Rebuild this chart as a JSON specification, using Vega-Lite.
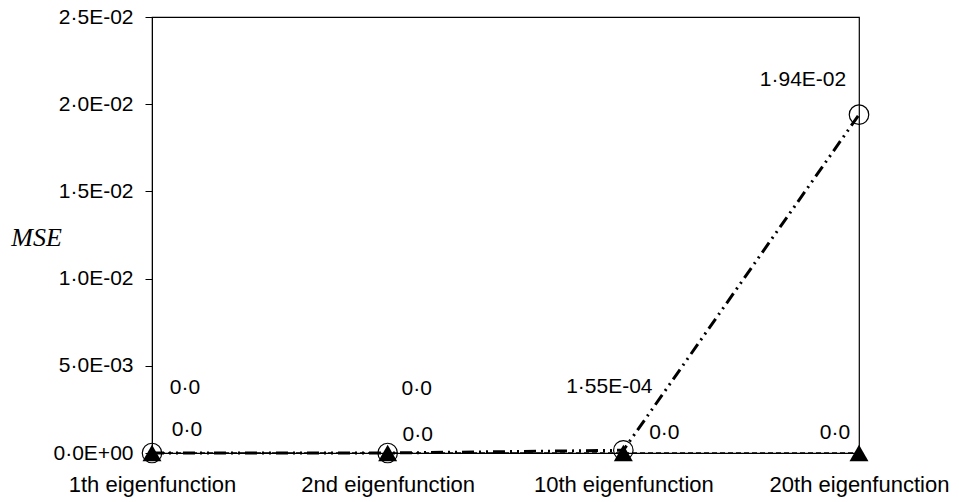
{
  "$schema": "https://vega.github.io/schema/vega-lite/v6.json",
  "width": 707,
  "height": 436,
  "autosize": {"type": "none"},
  "padding": {"left": 152, "top": 17, "right": 100, "bottom": 49},
  "background": "white",
  "config": {
    "view": {"stroke": "black", "strokeWidth": 1.2},
    "font": "Liberation Sans",
    "axis": {"labelFont": "Liberation Sans", "labelColor": "black", "labelFontSize": 21, "domainColor": "black", "tickColor": "black", "grid": false}
  },
  "data": {
    "values": [
      {"func": "1th eigenfunction", "series": "A", "pt": 1, "mse": 0, "label": "0·0"},
      {"func": "2nd eigenfunction", "series": "A", "pt": 2, "mse": 0, "label": "0·0"},
      {"func": "10th eigenfunction", "series": "A", "pt": 3, "mse": 0.000155, "label": "1·55E-04"},
      {"func": "20th eigenfunction", "series": "A", "pt": 4, "mse": 0.0194, "label": "1·94E-02"},
      {"func": "1th eigenfunction", "series": "B", "pt": 1, "mse": 0, "label": "0·0"},
      {"func": "2nd eigenfunction", "series": "B", "pt": 2, "mse": 0, "label": "0·0"},
      {"func": "10th eigenfunction", "series": "B", "pt": 3, "mse": 0, "label": "0·0"},
      {"func": "20th eigenfunction", "series": "B", "pt": 4, "mse": 0, "label": "0·0"}
    ]
  },
  "encoding": {
    "x": {
      "field": "func",
      "type": "ordinal",
      "scale": {"type": "point", "padding": 0, "domain": ["1th eigenfunction", "2nd eigenfunction", "10th eigenfunction", "20th eigenfunction"]},
      "axis": {"title": null, "domain": false, "ticks": false, "labelPadding": 21, "labelAngle": 0, "labelFontSize": 22}
    },
    "y": {
      "field": "mse",
      "type": "quantitative",
      "scale": {"domain": [0, 0.025], "nice": false},
      "axis": {
        "values": [0, 0.005, 0.01, 0.015, 0.02, 0.025],
        "labelExpr": "replace(replace(replace(format(datum.value, '.1e'), '.', '·'), 'e-', 'E-0'), 'e+', 'E+0')",
        "tickSize": 7,
        "labelPadding": 12,
        "title": "MSE",
        "titleFont": "Liberation Serif",
        "titleFontStyle": "italic",
        "titleFontWeight": "normal",
        "titleFontSize": 26,
        "titleColor": "black",
        "titleAngle": 0,
        "titleX": -116,
        "titleY": 228,
        "titleAlign": "center",
        "titleBaseline": "alphabetic"
      }
    }
  },
  "layer": [
    {"transform": [{"filter": "datum.series == 'A'"}], "mark": {"type": "line", "color": "black", "strokeWidth": 3, "strokeDash": [12, 5, 2, 5, 2, 5]}},
    {"transform": [{"filter": "datum.series == 'B'"}], "mark": {"type": "line", "color": "black", "strokeWidth": 1.5, "strokeDash": [5, 3]}},
    {"transform": [{"filter": "datum.series == 'A'"}], "mark": {"type": "point", "shape": "circle", "size": 380, "filled": false, "stroke": "black", "strokeWidth": 1.2, "opacity": 1}},
    {"transform": [{"filter": "datum.series == 'B'"}], "mark": {"type": "point", "shape": "triangle-up", "size": 360, "filled": true, "color": "black", "opacity": 1}},
    {"transform": [{"filter": "datum.series == 'A' && datum.pt == 1"}], "mark": {"type": "text", "fontSize": 21, "color": "black", "align": "center", "baseline": "middle", "dx": 33, "dy": -65}, "encoding": {"text": {"field": "label"}}},
    {"transform": [{"filter": "datum.series == 'A' && datum.pt == 2"}], "mark": {"type": "text", "fontSize": 21, "color": "black", "align": "center", "baseline": "middle", "dx": 29, "dy": -64}, "encoding": {"text": {"field": "label"}}},
    {"transform": [{"filter": "datum.series == 'A' && datum.pt == 3"}], "mark": {"type": "text", "fontSize": 21, "color": "black", "align": "center", "baseline": "middle", "dx": -14, "dy": -63}, "encoding": {"text": {"field": "label"}}},
    {"transform": [{"filter": "datum.series == 'A' && datum.pt == 4"}], "mark": {"type": "text", "fontSize": 21, "color": "black", "align": "center", "baseline": "middle", "dx": -56, "dy": -35}, "encoding": {"text": {"field": "label"}}},
    {"transform": [{"filter": "datum.series == 'B' && datum.pt == 1"}], "mark": {"type": "text", "fontSize": 21, "color": "black", "align": "center", "baseline": "middle", "dx": 35, "dy": -23}, "encoding": {"text": {"field": "label"}}},
    {"transform": [{"filter": "datum.series == 'B' && datum.pt == 2"}], "mark": {"type": "text", "fontSize": 21, "color": "black", "align": "center", "baseline": "middle", "dx": 30, "dy": -18}, "encoding": {"text": {"field": "label"}}},
    {"transform": [{"filter": "datum.series == 'B' && datum.pt == 3"}], "mark": {"type": "text", "fontSize": 21, "color": "black", "align": "center", "baseline": "middle", "dx": 41, "dy": -20}, "encoding": {"text": {"field": "label"}}},
    {"transform": [{"filter": "datum.series == 'B' && datum.pt == 4"}], "mark": {"type": "text", "fontSize": 21, "color": "black", "align": "center", "baseline": "middle", "dx": -24, "dy": -20}, "encoding": {"text": {"field": "label"}}}
  ]
}
